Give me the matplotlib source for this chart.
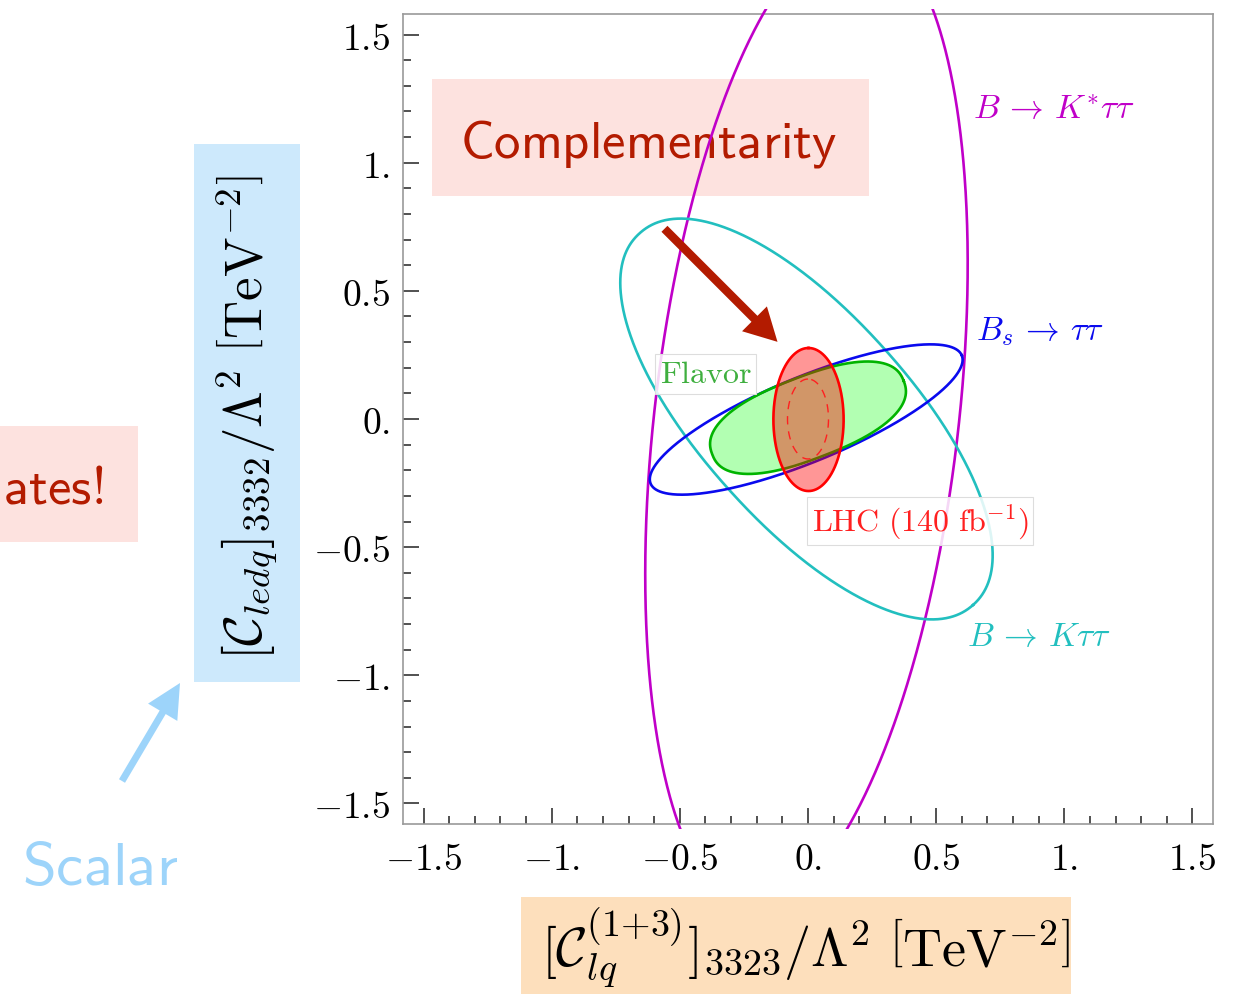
import numpy as np
import matplotlib
matplotlib.use("Agg")
import matplotlib.pyplot as plt
from matplotlib.patches import Rectangle, FancyArrow
from matplotlib.ticker import MultipleLocator

plt.rcParams['mathtext.fontset'] = 'cm'
plt.rcParams['font.family'] = ['DejaVu Sans']

# ---------------- data: 95% CL regions (ellipse parameters, TeV^-2) ----------------
contour_names = ["B->K*tautau", "B->Ktautau", "Bs->tautau", "Flavor", "LHC", "LHC_inner"]
center_x   = [-0.006, -0.006, -0.007, 0.000, 0.002, 0.000]
center_y   = [0.000, 0.000, -0.002, 0.005, -0.002, 0.000]
semi_major = [1.919, 0.974, 0.6565, 0.400, 0.279, 0.156]
semi_minor = [0.593, 0.409, 0.1654, 0.160, 0.137, 0.080]
angle_deg  = [83.4, -48.1, 22.4, 21.0, 90.0, 90.0]
shape_exp  = [2.0, 2.1, 2.0, 2.4, 2.0, 2.0]

major_ticks = [-1.5, -1.0, -0.5, 0.0, 0.5, 1.0, 1.5]
tick_labels = ["$-1.5$", "$-1.$", "$-0.5$", "$0.$", "$0.5$", "$1.$", "$1.5$"]
axis_lim = 1.58

# ---------------- helpers ----------------
def contour_xy(i, n=1500):
    t = np.linspace(0, 2 * np.pi, n)
    c, s = np.cos(t), np.sin(t)
    p = shape_exp[i]
    u = semi_major[i] * np.sign(c) * np.abs(c) ** (2.0 / p)
    v = semi_minor[i] * np.sign(s) * np.abs(s) ** (2.0 / p)
    th = np.deg2rad(angle_deg[i])
    x = center_x[i] + u * np.cos(th) - v * np.sin(th)
    y = center_y[i] + u * np.sin(th) + v * np.cos(th)
    return x, y

W, H = 1243, 995
fig = plt.figure(figsize=(W / 100, H / 100), dpi=100)
fig.patch.set_facecolor('white')

# background overlay in pixel coordinates (annotation boxes)
bg = fig.add_axes([0, 0, 1, 1], zorder=0)
bg.set_xlim(0, W)
bg.set_ylim(H, 0)
bg.axis('off')

ax = fig.add_axes([403 / W, 1 - 825 / H, 810 / W, 810 / H], zorder=1)
ax.set_facecolor('none')
ax.set_xlim(-axis_lim, axis_lim)
ax.set_ylim(-axis_lim, axis_lim)

# ---------------- annotation boxes ----------------
pink = '#FDE2DF'
darkred = '#B31B00'
bg.add_patch(Rectangle((432, 80), 437, 117, fc=pink, ec='none'))
bg.add_patch(Rectangle((-5, 427), 143, 116, fc=pink, ec='none'))
bg.add_patch(Rectangle((194, 145), 106, 538, fc='#CDE9FC', ec='none'))
bg.add_patch(Rectangle((521, 898), 550, 110, fc='#FDDFBC', ec='none'))

bg.text(460, 158, r'$\mathsf{Complementarity}$', fontsize=38, color=darkred,
        ha='left', va='baseline')
bg.text(103, 503, r'$\mathsf{ates!}$', fontsize=38, color=darkred,
        ha='right', va='baseline')
bg.text(22, 885, r'$\mathsf{Scalar}$', fontsize=44, color='#9DD4FA',
        ha='left', va='baseline')
bg.add_patch(FancyArrow(122, 782, 58, -98, width=7, head_width=34, head_length=34,
                        length_includes_head=True, color='#9DD4FA', lw=0))

bg.text(247, 417, r'$[\mathcal{C}_{ledq}]_{3332}/\Lambda^2\ \left[\mathrm{TeV}^{-2}\right]$',
        fontsize=38, rotation=90, ha='center', va='center')
bg.text(806, 948, r'$[\mathcal{C}_{lq}^{(1{+}3)}]_{3323}/\Lambda^2\ \left[\mathrm{TeV}^{-2}\right]$',
        fontsize=39, ha='center', va='center')

# ---------------- curves ----------------
lw = 1.9
magenta = '#C000C8'
cyan = '#22BFBF'
blue = '#0A0AEE'

x, y = contour_xy(0)
ln, = ax.plot(x, y, color=magenta, lw=lw, zorder=3)
ln.set_clip_path(Rectangle((-axis_lim, -1.60), 2 * axis_lim, 3.20, transform=ax.transData))

x, y = contour_xy(1)
ax.plot(x, y, color=cyan, lw=lw, zorder=3)

x, y = contour_xy(2)
ax.plot(x, y, color=blue, lw=lw, zorder=3)

x, y = contour_xy(3)
ax.fill(x, y, facecolor=(0, 1, 0, 0.3), edgecolor='none', zorder=4)
ax.plot(x, y, color='#00B400', lw=lw, zorder=4)

x, y = contour_xy(4)
ax.fill(x, y, facecolor=(1, 0, 0, 0.41), edgecolor='none', zorder=5)
ax.plot(x, y, color='#FF0000', lw=lw, zorder=5)

x, y = contour_xy(5)
ax.plot(x, y, color='#FF2020', lw=1.0, ls=(0, (6, 5)), zorder=5)

# arrow
ax.add_patch(FancyArrow(-0.560, 0.742, 0.441, -0.441, width=0.033, head_width=0.137,
                        head_length=0.127, length_includes_head=True, color=darkred,
                        lw=0, zorder=7))

# ---------------- labels ----------------
box = dict(boxstyle='square,pad=0.15', fc=(1, 1, 1, 0.85), ec='#dddddd', lw=0.8)
ax.text(0.642, 1.211, r'$B\,\to\,K^{*}\tau\tau$', color=magenta, fontsize=24.3,
        ha='left', va='center', zorder=8)
ax.text(0.657, 0.344, r'$B_s\,\to\,\tau\tau$', color=blue, fontsize=24.3,
        ha='left', va='center', zorder=8)
ax.text(0.622, -0.844, r'$B\,\to\,K\tau\tau$', color=cyan, fontsize=24.3,
        ha='left', va='center', zorder=8)
ax.text(-0.579, 0.176, r'$\mathrm{Flavor}$', color='#3FAF3F', fontsize=23,
        ha='left', va='center', zorder=8, bbox=box)
ax.text(0.014, -0.398, r'$\mathrm{LHC\ (140\ fb^{-1})}$', color='#FF2020', fontsize=23,
        ha='left', va='center', zorder=8, bbox=box)

# ---------------- axes styling ----------------
ax.set_xticks(major_ticks)
ax.set_xticklabels(tick_labels)
ax.set_yticks(major_ticks)
ax.set_yticklabels(tick_labels)
ax.xaxis.set_minor_locator(MultipleLocator(0.1))
ax.yaxis.set_minor_locator(MultipleLocator(0.1))
ax.tick_params(which='both', direction='in', top=False, right=False, color='#222222',
               labelsize=27)
ax.tick_params(which='major', length=11.5, width=1.1)
ax.tick_params(which='minor', length=6, width=1.1)
ax.tick_params(axis='y', pad=9)
ax.tick_params(axis='x', pad=12)
for s in ax.spines.values():
    s.set_color('#9a9a9a')
    s.set_linewidth(1.2)

fig.savefig('out.png', dpi=100)
